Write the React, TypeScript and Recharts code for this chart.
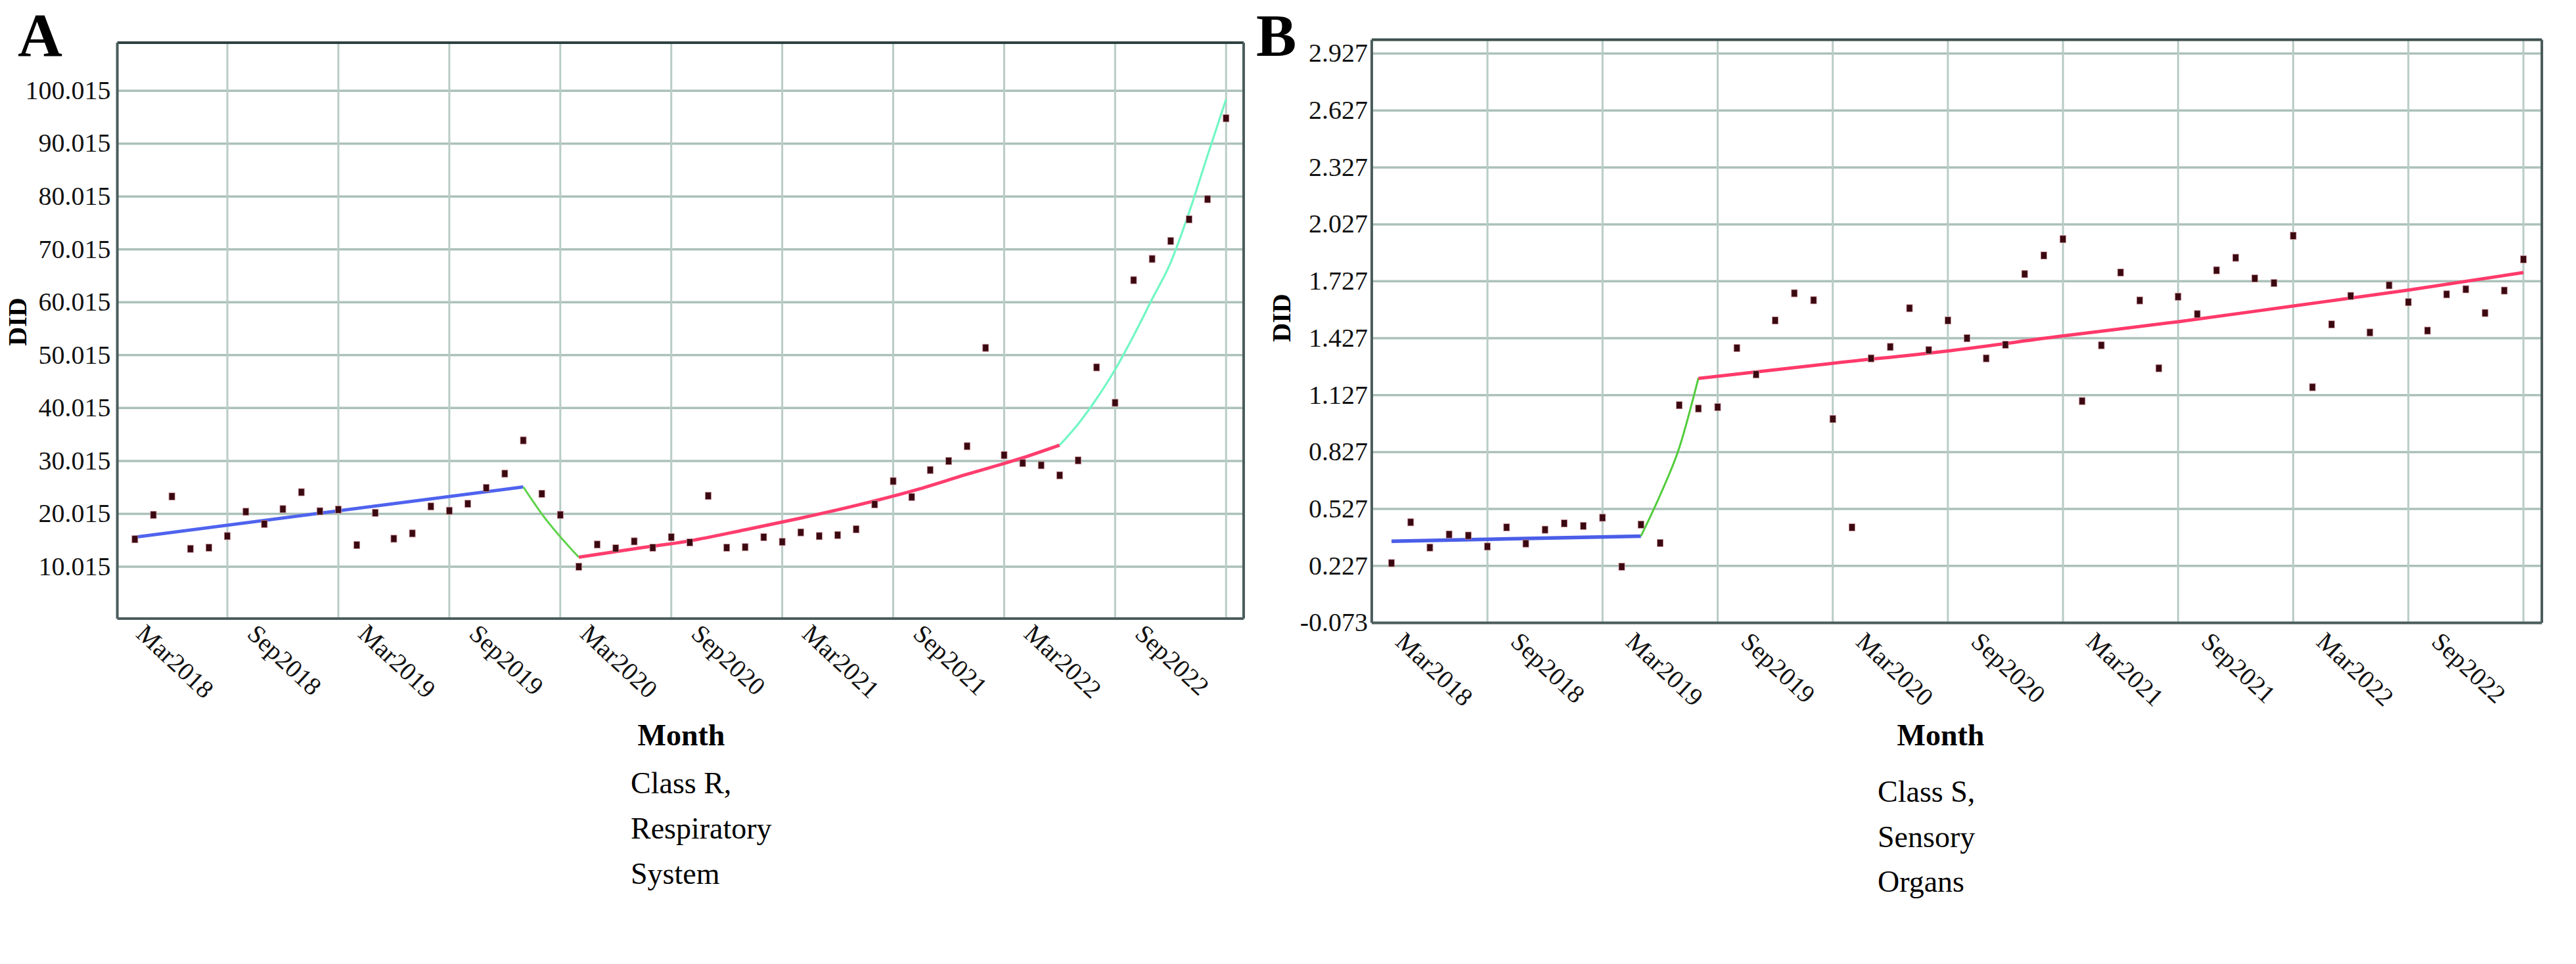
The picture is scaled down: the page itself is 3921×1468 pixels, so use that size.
import React from 'react';
import { ComposedChart, Line, Scatter, XAxis, YAxis, CartesianGrid, ReferenceLine } from 'recharts';

// months are counted from Mar2018 (index 0), one point per month
const tickMonths = [0, 6, 12, 18, 24, 30, 36, 42, 48, 54];
const tickLabels = ['Mar2018', 'Sep2018', 'Mar2019', 'Sep2019', 'Mar2020', 'Sep2020', 'Mar2021', 'Sep2021', 'Mar2022', 'Sep2022'];
const gridMonths = [5, 11, 17, 23, 29, 35, 41, 47, 53, 59];

const yTicksR = [10.015, 20.015, 30.015, 40.015, 50.015, 60.015, 70.015, 80.015, 90.015, 100.015];
const yTicksS = [-0.073, 0.227, 0.527, 0.827, 1.127, 1.427, 1.727, 2.027, 2.327, 2.627, 2.927];

// Class R, respiratory system: monthly DID
const didR = [
  15.2, 19.8, 23.3, 13.4, 13.6, 15.8, 20.4, 18.1, 20.9, 24.1,
  20.5, 20.8, 14.1, 20.2, 15.3, 16.3, 21.4, 20.6, 21.9, 24.9,
  27.6, 33.9, 23.8, 19.8, 10.0, 14.2, 13.5, 14.8, 13.6, 15.6,
  14.6, 23.4, 13.6, 13.7, 15.6, 14.7, 16.5, 15.8, 16.0, 17.1,
  21.8, 26.2, 23.2, 28.3, 30.0, 32.8, 51.4, 31.1, 29.6, 29.2,
  27.3, 30.1, 47.7, 41.0, 64.2, 68.2, 71.6, 75.7, 79.5, 94.8,
];

// fitted segments, [month, DID]
const fitR1: [number, number][] = [[0, 15.6], [21, 25.1]];
const fitR2: [number, number][] = [[21, 25.1], [22, 20.0], [24, 11.8]];
const fitR3: [number, number][] = [
  [24, 11.8], [27, 13.4], [30, 14.9], [33, 17.0], [36, 19.2],
  [39, 21.6], [42, 24.3], [45, 27.5], [48, 30.6], [50, 33.0],
];
const fitR4: [number, number][] = [
  [50, 33.0], [51, 37.0], [52, 41.8], [53, 47.3], [54, 53.7],
  [55, 60.6], [56, 67.5], [57, 77.0], [58, 87.8], [59, 98.4],
];

// Class S, sensory organs: monthly DID
const didS = [
  0.242, 0.457, 0.324, 0.393, 0.387, 0.329, 0.430, 0.345, 0.418, 0.451,
  0.438, 0.481, 0.223, 0.445, 0.348, 1.074, 1.056, 1.064, 1.375, 1.236,
  1.521, 1.664, 1.627, 1.001, 0.430, 1.321, 1.381, 1.585, 1.364, 1.521,
  1.427, 1.321, 1.393, 1.765, 1.863, 1.949, 1.096, 1.390, 1.773, 1.626,
  1.269, 1.646, 1.554, 1.785, 1.851, 1.742, 1.718, 1.967, 1.169, 1.500,
  1.650, 1.457, 1.706, 1.617, 1.467, 1.658, 1.685, 1.560, 1.678, 1.843,
];

const fitS1: [number, number][] = [[0, 0.357], [13, 0.384]];
const fitS2: [number, number][] = [[13, 0.384], [14, 0.60], [15, 0.85], [16, 1.218]];
const fitS3: [number, number][] = [
  [16, 1.215], [23, 1.295], [29, 1.360], [35, 1.439],
  [41, 1.514], [47, 1.597], [53, 1.681], [59, 1.773],
];

const SERIF = '"Liberation Serif", "Times New Roman", serif';
const GRID = '#abc1b9';
const AXIS = '#4c5d5d';

const toRows = (pairs: [number, number][]) => pairs.map(([m, v]) => ({ m, v }));
const toPoints = (vals: number[]) => vals.map((v, m) => ({ m, v }));

interface Fit {
  data: [number, number][];
  color: string;
  width: number;
  curve?: boolean;
}

interface PanelProps {
  left: number;
  width: number;
  margin: { top: number; right: number; bottom: number; left: number };
  yAxisWidth: number;
  xDomain: [number, number];
  yDomain: [number, number];
  yTicks: number[];
  values: number[];
  fits: Fit[];
  labelDx: number;
  labelDy: number;
  tickGap: number;
  topColor: string;
}

const MonthTick = (props: any) => {
  const { x, y, payload, dx, dy } = props;
  const ax = x + dx;
  const ay = y + dy;
  const label = tickLabels[tickMonths.indexOf(payload.value)];
  return (
    <text x={ax} y={ay} transform={`rotate(43, ${ax}, ${ay})`} fontFamily={SERIF} fontSize={39} fill="#111">
      {label}
    </text>
  );
};

const ValueTick = (props: any) => {
  const { x, y, payload } = props;
  return (
    <text x={x} y={y} dy="0.32em" textAnchor="end" fontFamily={SERIF} fontSize={40} fill="#111">
      {Number(payload.value).toFixed(3)}
    </text>
  );
};

const Point = (props: any) => {
  const { cx, cy } = props;
  if (cx == null || cy == null) return null;
  return <rect x={cx - 4.5} y={cy - 5.5} width={9} height={11} fill="#3a0810" stroke="#c48a92" strokeWidth={0.8} />;
};

const Panel = (p: PanelProps) => (
  <div style={{ position: 'absolute', left: p.left, top: 0 }}>
    <ComposedChart width={p.width} height={1468} margin={p.margin}>
      <CartesianGrid vertical={false} stroke={GRID} strokeWidth={3.5} />
      <XAxis
        type="number"
        dataKey="m"
        domain={p.xDomain}
        ticks={tickMonths}
        allowDataOverflow
        height={30}
        tickSize={0}
        tickMargin={0}
        tickLine={false}
        interval={0}
        axisLine={{ stroke: AXIS, strokeWidth: 4 }}
        tick={(t: any) => <MonthTick {...t} dx={p.labelDx} dy={p.labelDy} />}
      />
      <YAxis
        type="number"
        dataKey="v"
        domain={p.yDomain}
        ticks={p.yTicks}
        allowDataOverflow
        width={p.yAxisWidth}
        tickSize={0}
        tickMargin={p.tickGap}
        tickLine={false}
        interval={0}
        axisLine={{ stroke: AXIS, strokeWidth: 4 }}
        tick={<ValueTick />}
      />
      {/* half-year grid columns sit one month before each labelled tick */}
      {gridMonths.map((m) => (
        <ReferenceLine key={`g${m}`} x={m} stroke="#b9ccc6" strokeWidth={3} />
      ))}
      <ReferenceLine y={p.yDomain[1]} stroke={p.topColor} strokeWidth={4} />
      <ReferenceLine x={p.xDomain[1]} stroke={AXIS} strokeWidth={4} />
      {p.fits.map((f, i) => (
        <Line
          key={i}
          data={toRows(f.data)}
          dataKey="v"
          type={f.curve ? 'monotone' : 'linear'}
          stroke={f.color}
          strokeWidth={f.width}
          dot={false}
          activeDot={false}
          isAnimationActive={false}
        />
      ))}
      <Scatter data={toPoints(p.values)} dataKey="v" shape={<Point />} isAnimationActive={false} />
    </ComposedChart>
  </div>
);

export default function App() {
  return (
    <div style={{ position: 'absolute', left: 0, top: 0, width: 3921, height: 1468, background: '#fff', overflow: 'hidden' }}>
      <Panel
        left={0}
        width={1960}
        margin={{ top: 65, right: 67, bottom: 496, left: 28.6 }}
        yAxisWidth={150}
        xDomain={[-0.95, 59.95]}
        yDomain={[0.2, 109.1]}
        yTicks={yTicksR}
        values={didR}
        fits={[
          { data: fitR1, color: '#4f63ee', width: 5 },
          { data: fitR2, color: '#5fd34a', width: 3, curve: true },
          { data: fitR3, color: '#ff3d6e', width: 5, curve: true },
          { data: fitR4, color: '#72f7c4', width: 3.2, curve: true },
        ]}
        labelDx={0}
        labelDy={26}
        tickGap={10}
        topColor="#2f4141"
      />
      <Panel
        left={1960}
        width={1961}
        margin={{ top: 60.5, right: 52, bottom: 489.5, left: 18 }}
        yAxisWidth={110}
        xDomain={[-1.03, 59.96]}
        yDomain={[-0.073, 3.0]}
        yTicks={yTicksS}
        values={didS}
        fits={[
          { data: fitS1, color: '#4a5ee8', width: 5.5 },
          { data: fitS2, color: '#52cc3c', width: 3, curve: true },
          { data: fitS3, color: '#ff3a6a', width: 5, curve: true },
        ]}
        labelDx={4}
        labelDy={31.5}
        tickGap={6}
        topColor="#3d4f4f"
      />
      <svg width={3921} height={1468} style={{ position: 'absolute', left: 0, top: 0, pointerEvents: 'none' }}>
        <g fontFamily={SERIF} fill="#000">
          <text x={27} y={85} fontSize={94} fontWeight="bold">A</text>
          <text x={1912} y={85} fontSize={92} fontWeight="bold">B</text>

          <text transform="translate(40, 490) rotate(-90)" textAnchor="middle" fontSize={40} fontWeight="bold">DID</text>
          <text transform="translate(1964, 484) rotate(-90)" textAnchor="middle" fontSize={40} fontWeight="bold">DID</text>

          <text x={1037} y={1135} textAnchor="middle" fontSize={46} fontWeight="bold">Month</text>
          <text x={2954} y={1135} textAnchor="middle" fontSize={46} fontWeight="bold">Month</text>

          <text x={960} y={1208} fontSize={46}>Class R,</text>
          <text x={960} y={1277} fontSize={46}>Respiratory</text>
          <text x={960} y={1346} fontSize={46}>System</text>

          <text x={2858} y={1221} fontSize={46}>Class S,</text>
          <text x={2858} y={1290} fontSize={46}>Sensory</text>
          <text x={2858} y={1358} fontSize={46}>Organs</text>
        </g>
      </svg>
    </div>
  );
}
